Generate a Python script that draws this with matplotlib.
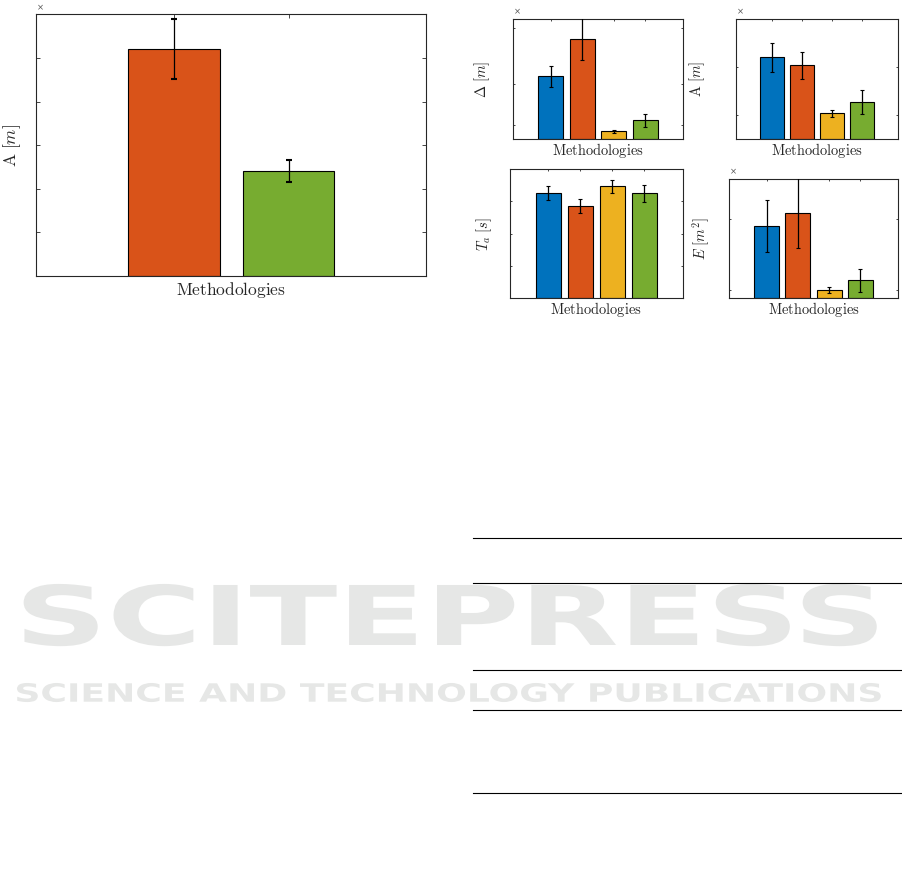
import matplotlib
matplotlib.use("Agg")
import matplotlib.pyplot as plt
import matplotlib.patheffects as pe
from matplotlib.lines import Line2D
from matplotlib.transforms import Affine2D

plt.rcParams['mathtext.fontset'] = 'cm'
plt.rcParams['font.family'] = 'DejaVu Sans'

# matlab default colour order
blue, orange, yellow, green = '#0072BD', '#D95319', '#EDB120', '#77AC30'

# big panel, two methodologies
big_A = [5.20, 2.40]
big_A_err = [0.69, 0.25]
big_colors = [orange, green]

# small panels, four methodologies
delta = [2.28, 3.61, 0.29, 0.68]
delta_err = [0.38, 0.76, 0.055, 0.22]
amp = [3.40, 3.07, 1.08, 1.53]
amp_err = [0.60, 0.56, 0.145, 0.50]
t_a = [3.25, 2.85, 3.47, 3.25]
t_a_err = [0.22, 0.21, 0.21, 0.26]
energy = [0.91, 1.08, 0.094, 0.22]
energy_err = [0.33, 0.45, 0.036, 0.15]
small_colors = [blue, orange, yellow, green]

W, H = 903, 876
fig = plt.figure(figsize=(W / 100, H / 100), dpi=100)
dark = '#262626'


def px_axes(left, top, right, bottom):
    return fig.add_axes([left / W, 1 - bottom / H, (right - left) / W, (bottom - top) / H])


def bar_panel(ax, vals, errs, colors, ylabel, ylim, yticks, ylab_off, xlab_off,
              fs=10.4, cap=1.35, capthick=0.8, tick_len=1.7, times=True):
    x = list(range(1, len(vals) + 1))
    ax.bar(x, vals, width=0.8, color=colors, edgecolor='black', linewidth=0.8, zorder=2)
    ax.errorbar(x, vals, yerr=errs, fmt='none', ecolor='black', elinewidth=0.9,
                capsize=cap, capthick=capthick, zorder=3)
    ax.set_xlim(-0.2, len(vals) + 1.2)
    ax.set_ylim(*ylim)
    ax.set_xticks(x)
    ax.set_yticks(yticks)
    ax.tick_params(direction='in', top=True, right=True, labelbottom=False, labelleft=False,
                   length=tick_len, width=0.6, color=dark)
    for s in ax.spines.values():
        s.set_linewidth(0.8)
        s.set_color(dark)
    ax.set_xlabel(r'$\mathrm{Methodologies}$', fontsize=fs, color=dark, va='center')
    ax.set_ylabel(ylabel, fontsize=fs, color=dark, va='center')
    bb = ax.get_position()
    ax.xaxis.set_label_coords(0.5, -xlab_off / (bb.height * H))
    ax.yaxis.set_label_coords(-ylab_off / (bb.width * W), 0.5)
    if times:
        # leftover of the exponent label
        ax.annotate('×', xy=(0, 1), xycoords='axes fraction', xytext=(4, 7),
                    textcoords='offset pixels', fontsize=6, color='#555555',
                    ha='center', va='center')


ax = px_axes(36, 14.3, 426.3, 276)
bar_panel(ax, big_A, big_A_err, big_colors, r'$\mathrm{A}\ [m]$', (0, 6), [1, 2, 3, 4, 5],
          24.3, 14, fs=12.5, cap=1.9, capthick=1.5, tick_len=2.9)

ax = px_axes(513.3, 18.7, 682.7, 139.3)
bar_panel(ax, delta, delta_err, small_colors, r'$\Delta\ [m]$', (0, 4.35), [0.5, 2, 4], 30.8, 11.5)

ax = px_axes(736.3, 18.7, 897.7, 139.3)
bar_panel(ax, amp, amp_err, small_colors, r'$\mathrm{A}\ [m]$', (0, 5), [1, 3], 38.8, 11.2)

ax = px_axes(510, 169.3, 682.7, 297.7)
bar_panel(ax, t_a, t_a_err, small_colors, r'$T_a\ [s]$', (0, 4), [1, 2, 3], 26.2, 12, times=False)

ax = px_axes(729.3, 179, 897.7, 297.7)
bar_panel(ax, energy, energy_err, small_colors, r'$E\ [m^2]$', (0, 1.51), [0.1, 1.0], 28.5, 12)

# table rules on the right of the page
for y in [538.3, 583, 669.7, 710.3, 793.3]:
    fig.add_artist(Line2D([472.7 / W, 1], [1 - y / H] * 2, color='black', lw=0.8, zorder=5))


# publisher watermark, stretched wide like the original lettering
class HStretch(pe.AbstractPathEffect):
    def __init__(self, sx, x0):
        super().__init__()
        self.sx, self.x0 = sx, x0

    def draw_path(self, renderer, gc, tpath, affine, rgbFace=None):
        wide = Affine2D().translate(-self.x0, 0).scale(self.sx, 1).translate(self.x0, 0)
        renderer.draw_path(gc, tpath, affine + wide, rgbFace)


marks = []
for s, base, cap_px in [('SCITEPRESS', 645, 60),
                        ('SCIENCE AND TECHNOLOGY PUBLICATIONS', 701.7, 18.4)]:
    t = fig.text(14.4 / W, 1 - base / H, s, fontsize=cap_px / 0.729 * 0.72, fontweight='bold',
                 color='#e6e7e6', ha='left', va='baseline', zorder=0)
    marks.append(t)
fig.canvas.draw()
for t in marks:
    bb = t.get_window_extent()
    t.set_path_effects([HStretch(870.3 / bb.width, bb.x0)])

fig.savefig('out.png', dpi=100, facecolor='white')
